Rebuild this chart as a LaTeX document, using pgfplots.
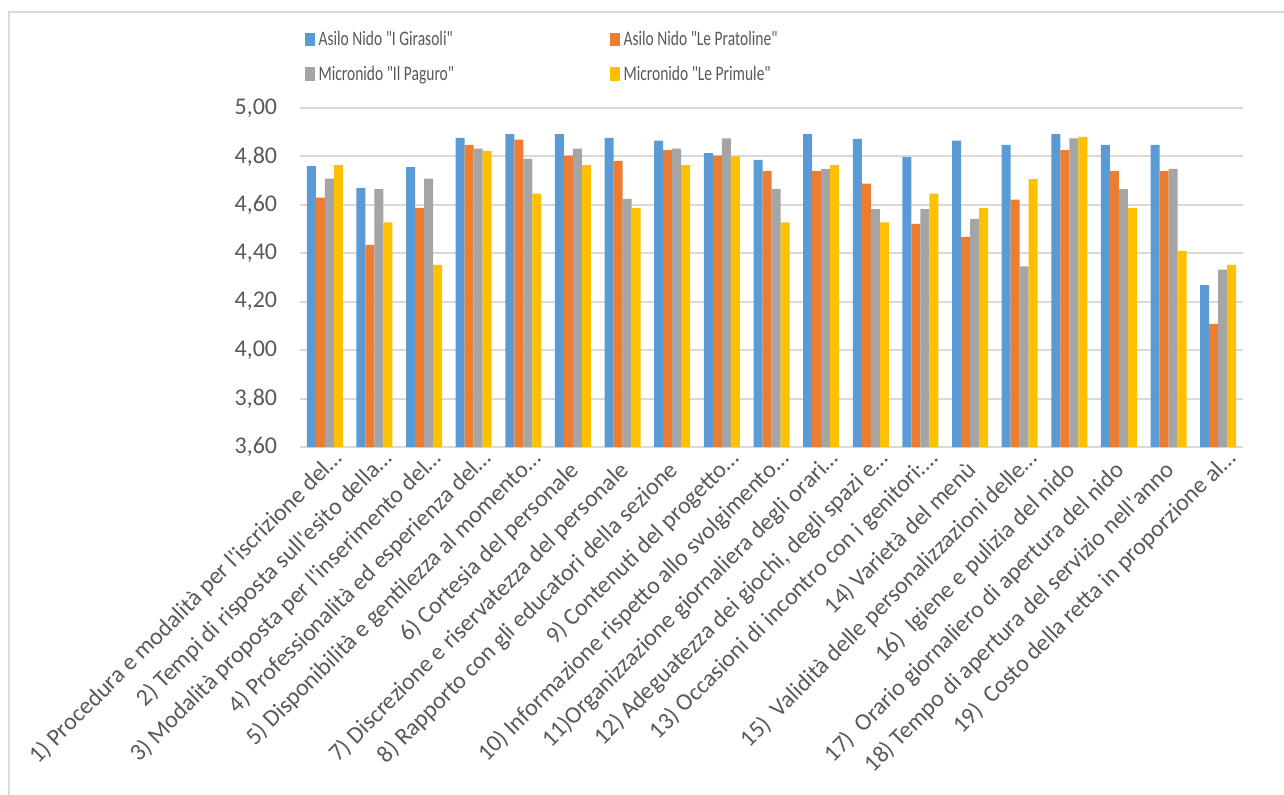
\documentclass[border=0pt]{standalone}
\usepackage{fontspec}
\setmainfont{Carlito}[Ligatures=TeXOff]
\usepackage{graphicx}
\usepackage{pgfplots}
\usepackage{pgfplotstable}
\pgfplotsset{compat=1.18}
\definecolor{cblue}{HTML}{5B9BD5}
\definecolor{corange}{HTML}{ED7D31}
\definecolor{cgray}{HTML}{A5A5A5}
\definecolor{cyellow}{HTML}{FFC000}
\definecolor{textgray}{HTML}{595959}
\definecolor{gridgray}{HTML}{D9D9D9}
\pgfplotstableread{
x a b c d
0 4.760 4.630 4.708 4.764
1 4.670 4.435 4.665 4.528
2 4.756 4.588 4.708 4.352
3 4.877 4.848 4.832 4.823
4 4.892 4.869 4.790 4.646
5 4.892 4.803 4.832 4.764
6 4.877 4.782 4.625 4.588
7 4.865 4.826 4.832 4.764
8 4.814 4.803 4.875 4.800
9 4.786 4.739 4.665 4.528
10 4.892 4.739 4.749 4.764
11 4.872 4.688 4.582 4.528
12 4.797 4.521 4.582 4.646
13 4.865 4.468 4.542 4.588
14 4.848 4.622 4.346 4.706
15 4.892 4.826 4.875 4.881
16 4.848 4.739 4.665 4.588
17 4.848 4.739 4.749 4.410
18 4.269 4.108 4.333 4.352
}\data
\newcommand{\legtxt}[1]{\makebox[218.75pt][l]{\scalebox{0.75}[1]{#1}}}
\newcommand{\tr}{\hspace*{12.5pt}}
\begin{document}
\begin{tikzpicture}
\useasboundingbox (0,0) rectangle (963pt,595.5pt);
\draw[gridgray, line width=1.5pt] (6.75pt,-1pt) -- (6.75pt,586.5pt) -- (964pt,586.5pt);
\begin{axis}[
  at={(225pt,260.25pt)}, anchor=south west,
  scale only axis, width=707.25pt, height=254.25pt,
  ybar=0pt, bar width=6.75pt,
  xmin=-0.5, xmax=18.5, ymin=3.6, ymax=5.0,
  ytick={3.6,3.8,4.0,4.2,4.4,4.6,4.8,5.0},
  xtick={0,1,...,18},
  xticklabels={
    {1) Procedura e modalità per l'iscrizione del…},
    {2) Tempi di risposta sull'esito della…},
    {3) Modalità proposta per l'inserimento del…},
    {4) Professionalità ed esperienza del…},
    {5) Disponibilità e gentilezza al momento…},
    {6) Cortesia del personale\tr},
    {7) Discrezione e riservatezza del personale\tr},
    {8) Rapporto con gli educatori della sezione\tr},
    {9) Contenuti del progetto…},
    {10) Informazione rispetto allo svolgimento…},
    {11)Organizzazione giornaliera degli orari…},
    {12) Adeguatezza dei giochi, degli spazi e…},
    {13) Occasioni di incontro con i genitori:…},
    {14) Varietà del menù\tr},
    {15)~ Validità delle personalizzazioni delle…},
    {16)~ Igiene e pulizia del nido\tr},
    {17)~ Orario giornaliero di apertura del nido\tr},
    {18) Tempo di apertura del servizio nell'anno\tr},
    {19)~ Costo della retta in proporzione al…}},
  axis line style={draw=none},
  major tick length=0pt,
  ymajorgrids, grid style={draw=gridgray, line width=1.5pt},
  yticklabel style={font=\fontsize{18}{20}\selectfont, text=textgray, inner sep=0pt, xshift=-17pt,
    /pgf/number format/.cd, fixed, fixed zerofill, precision=2, use comma, assume math mode=true},
  xticklabel style={font=\fontsize{18}{20}\selectfont, text=textgray, rotate=45, anchor=east, inner sep=0pt, xshift=3.3pt, yshift=-11.6pt},
  legend columns=2,
  legend style={at={(0.0053,1.227)}, anchor=north west, draw=none, inner sep=0pt,
    font=\fontsize{15.5}{17}\selectfont, text=textgray, row sep=13.5pt,
    nodes={inner sep=0pt},
    /tikz/every odd column/.append style={column sep=3pt}},
  legend image code/.code={\fill[#1,draw=none] (0pt,-5pt) rectangle (7pt,5pt);},
]
\addplot[fill=cblue, draw=none] table[x=x,y=a]{\data};
\addplot[fill=corange, draw=none] table[x=x,y=b]{\data};
\addplot[fill=cgray, draw=none] table[x=x,y=c]{\data};
\addplot[fill=cyellow, draw=none] table[x=x,y=d]{\data};
\addlegendentry{\legtxt{Asilo Nido "I Girasoli"}}
\addlegendentry{\legtxt{Asilo Nido "Le Pratoline"}}
\addlegendentry{\legtxt{Micronido "Il Paguro"}}
\addlegendentry{\legtxt{Micronido "Le Primule"}}
\end{axis}
\end{tikzpicture}
\end{document}
